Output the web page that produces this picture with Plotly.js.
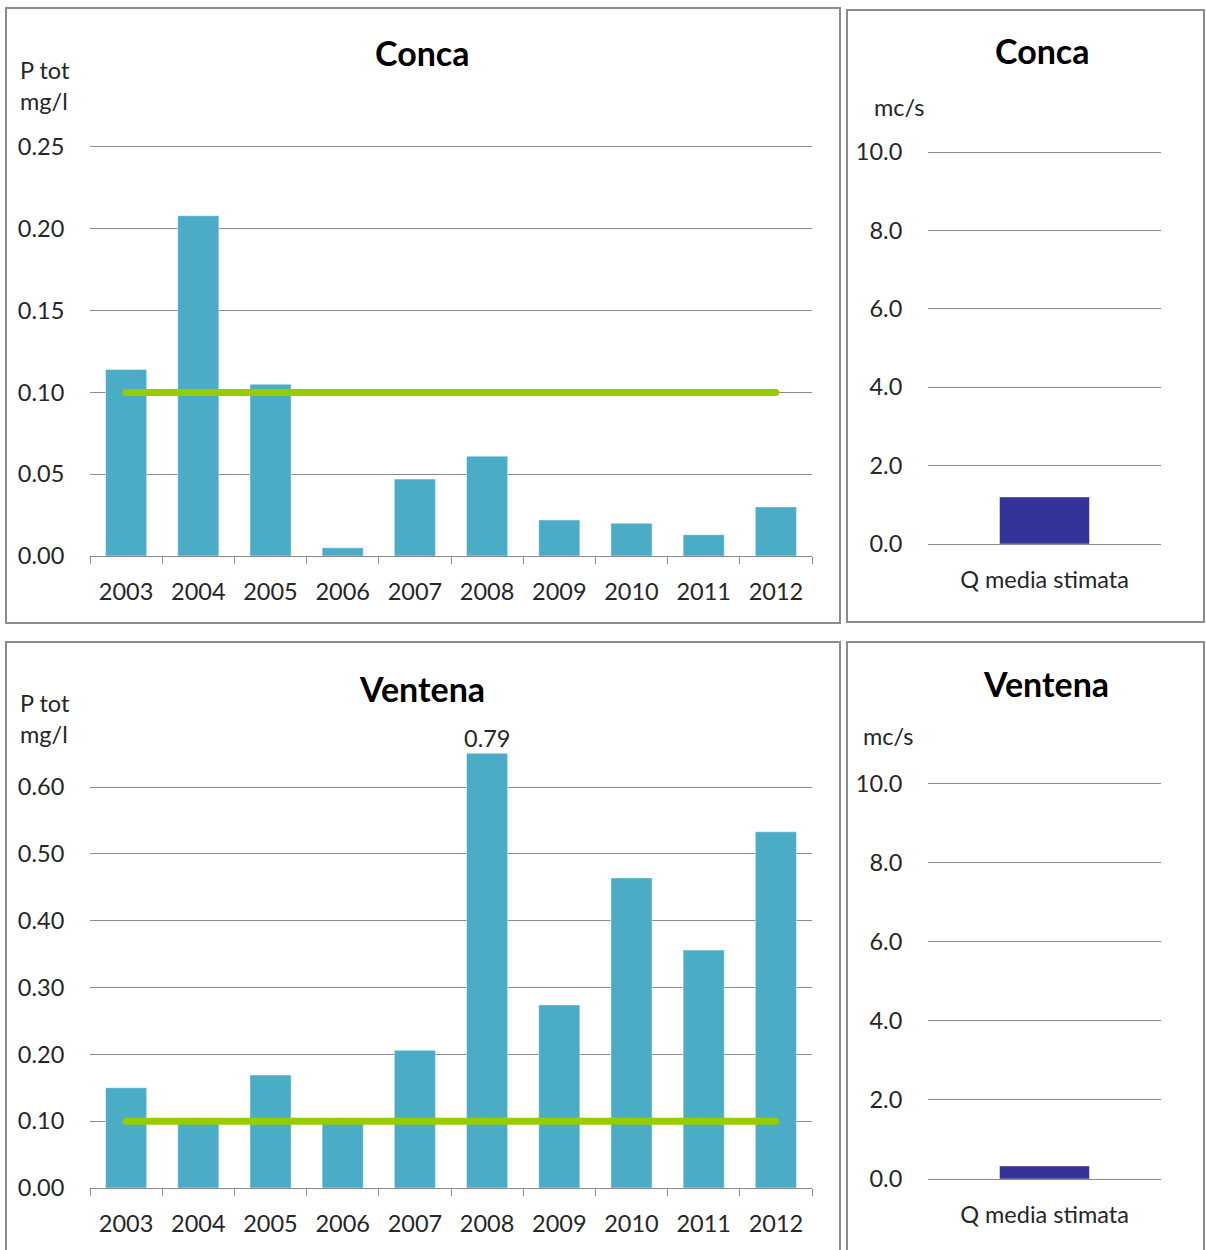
<!DOCTYPE html>
<html>
<head>
<meta charset="utf-8">
<script src="https://cdn.plot.ly/plotly-3.0.1.min.js"></script>
<style>
  html, body { margin: 0; padding: 0; background: #ffffff; }
  #chart { width: 1206px; height: 1250px; }
</style>
</head>
<body>
<div id="chart"></div>
<script>
// ---------- data ----------
const years = ['2003', '2004', '2005', '2006', '2007', '2008', '2009', '2010', '2011', '2012'];
const concaP = [0.114, 0.208, 0.105, 0.005, 0.047, 0.061, 0.022, 0.020, 0.013, 0.030];
const ventenaP = [0.150, 0.098, 0.169, 0.098, 0.206, 0.79, 0.274, 0.464, 0.356, 0.533];
const limitP = [0.10, 0.10, 0.10, 0.10, 0.10, 0.10, 0.10, 0.10, 0.10, 0.10];
const flowLabel = ['Q media stimata'];
const concaQ = [1.2];
const ventenaQ = [0.33];
const stationNames = ['Conca', 'Ventena'];
const unitP = 'P tot<br>mg/l';
const unitQ = 'mc/s';

// ---------- layout helpers ----------
const W = 1206, H = 1250;
const px = v => v / W;
const py = v => 1 - v / H;

const FONT = 'Lato, "Open Sans", "DejaVu Sans", sans-serif';
const TXT = '#262626';
const GRID = '#8c8c8c';
const BAR = '#4bacc6';
const QBAR = '#333399';
const LIMIT = '#99cc00';
const TICK = 23.5;
const TITLE = 34;

function barTrace(x, y, xa, ya, color, w) {
  return {
    type: 'bar', x: x, y: y, xaxis: xa, yaxis: ya, width: w,
    marker: { color: color, line: { color: 'rgba(255,255,255,0.45)', width: 1 } },
    hoverinfo: 'x+y', showlegend: false
  };
}
function limitTrace(xa, ya) {
  return {
    type: 'scatter', mode: 'lines+markers', x: years, y: limitP, xaxis: xa, yaxis: ya,
    line: { color: LIMIT, width: 7 }, marker: { color: LIMIT, size: 7 },
    hoverinfo: 'y', showlegend: false
  };
}

const data = [
  barTrace(years, concaP, 'x', 'y', BAR, 0.57),
  limitTrace('x', 'y'),
  barTrace(flowLabel, concaQ, 'x2', 'y2', QBAR, 0.386),
  barTrace(years, ventenaP, 'x3', 'y3', BAR, 0.57),
  limitTrace('x3', 'y3'),
  barTrace(flowLabel, ventenaQ, 'x4', 'y4', QBAR, 0.386)
];

function catAxis(x0, x1, anchor, n, withTicks) {
  return {
    domain: [px(x0), px(x1)], anchor: anchor, type: 'category',
    range: [-0.5, n - 0.5], autorange: false,
    showline: true, linecolor: GRID, linewidth: 1,
    showgrid: false, zeroline: false,
    ticks: 'outside', tickson: withTicks ? 'boundaries' : 'labels',
    ticklen: withTicks ? 7 : 14, tickwidth: 1,
    tickcolor: withTicks ? GRID : 'rgba(0,0,0,0)',
    ticklabelstandoff: withTicks ? 15 : 1,
    tickfont: { family: FONT, size: TICK, color: TXT },
    fixedrange: true
  };
}
function valAxis(yBottom, yTop, anchor, range, dtick, fmt) {
  return {
    domain: [py(yBottom), py(yTop)], anchor: anchor,
    range: range, autorange: false, dtick: dtick, tick0: 0, tickformat: fmt,
    showgrid: true, gridcolor: GRID, gridwidth: 1,
    zeroline: false, showline: false,
    ticks: 'outside', ticklen: 20, tickcolor: 'rgba(0,0,0,0)',
    tickfont: { family: FONT, size: TICK, color: TXT },
    fixedrange: true
  };
}

function box(x0, y0, x1, y1) {
  return {
    type: 'rect', xref: 'paper', yref: 'paper',
    x0: px(x0), x1: px(x1), y0: py(y0), y1: py(y1),
    line: { color: '#8c8c8c', width: 2 }, fillcolor: 'rgba(0,0,0,0)', layer: 'above'
  };
}
function note(text, x, y, size, bold, xanchor, align) {
  return {
    text: bold ? '<b>' + text + '</b>' : text,
    xref: 'paper', yref: 'paper', x: px(x), y: py(y),
    xanchor: xanchor || 'center', yanchor: 'middle', align: align || 'center',
    showarrow: false, font: { family: FONT, size: size, color: bold ? '#000000' : TXT }
  };
}

const peakIdx = years.indexOf('2008');

const layout = {
  width: W, height: H,
  margin: { l: 0, r: 0, t: 0, b: 0 },
  paper_bgcolor: '#ffffff', plot_bgcolor: 'rgba(0,0,0,0)',
  barmode: 'overlay',
  xaxis: catAxis(90, 812, 'y', years.length, true),
  yaxis: valAxis(556, 143.7, 'x', [0, 0.252], 0.05, '.2f'),
  xaxis2: catAxis(928, 1161, 'y2', 1, false),
  yaxis2: valAxis(544, 148.9, 'x2', [0, 10.08], 2, '.1f'),
  xaxis3: catAxis(90, 812, 'y3', years.length, true),
  yaxis3: valAxis(1188, 753.6, 'x3', [0, 0.65], 0.1, '.2f'),
  xaxis4: catAxis(928, 1161, 'y4', 1, false),
  yaxis4: valAxis(1179, 780.8, 'x4', [0, 10.08], 2, '.1f'),
  shapes: [
    box(6, 8, 840, 623),
    box(847, 10, 1204, 622),
    box(6, 642, 840, 1253),
    box(847, 642, 1204, 1253)
  ],
  annotations: [
    note(stationNames[0], 422, 53, TITLE, true),
    note(stationNames[0], 1042, 50, TITLE, true),
    note(stationNames[1], 422, 688, TITLE, true),
    note(stationNames[1], 1046, 683, TITLE, true),
    note(unitP, 18, 85, TICK, false, 'left', 'left'),
    note(unitP, 18, 718, TICK, false, 'left', 'left'),
    note(unitQ, 872, 107, TICK, false, 'left', 'left'),
    note(unitQ, 861, 736, TICK, false, 'left', 'left'),
    {
      text: ventenaP[peakIdx].toFixed(2), xref: 'x3', yref: 'y3', x: peakIdx, y: 0.65,
      xanchor: 'center', yanchor: 'bottom', yshift: 0, showarrow: false,
      font: { family: FONT, size: TICK, color: TXT }
    }
  ]
};

Plotly.newPlot('chart', data, layout, { displayModeBar: false, staticPlot: true });
</script>
</body>
</html>
